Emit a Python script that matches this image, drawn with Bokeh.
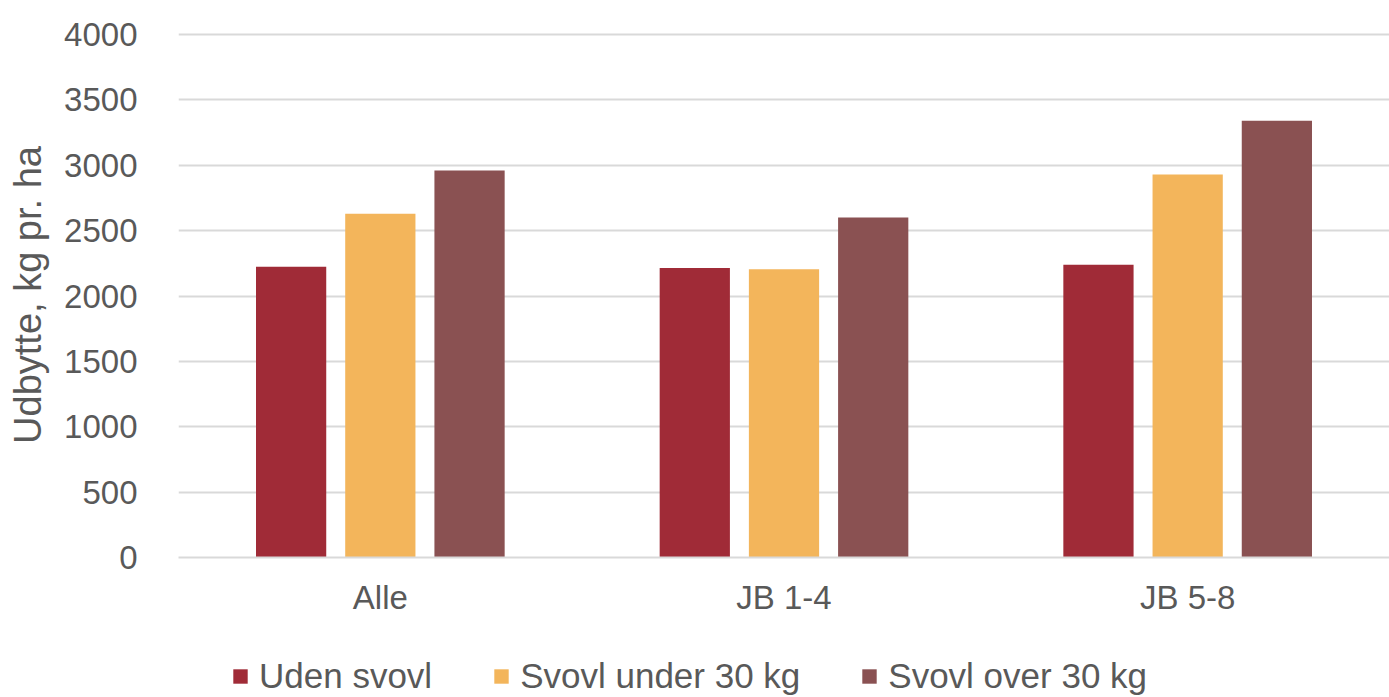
from bokeh.plotting import figure
from bokeh.models import ColumnDataSource, FactorRange, Range1d, Legend, LegendItem
from bokeh.layouts import column
from bokeh.transform import dodge
from bokeh.embed import file_html
from bokeh.resources import INLINE

categories = ["Alle", "JB 1-4", "JB 5-8"]
series_names = ["Uden svovl", "Svovl under 30 kg", "Svovl over 30 kg"]
uden_svovl = [2225, 2215, 2240]
svovl_under_30 = [2630, 2205, 2930]
svovl_over_30 = [2960, 2600, 3340]
y_ticks = [0, 500, 1000, 1500, 2000, 2500, 3000, 3500, 4000]

colors = ["#A02B37", "#F3B55B", "#8A5152"]
FONT = "Liberation Sans"
TXT = "#595959"

source = ColumnDataSource(dict(cat=categories, s0=uden_svovl, s1=svovl_under_30, s2=svovl_over_30))

p = figure(frame_width=1211, frame_height=525, x_range=FactorRange(*categories, range_padding=0),
           y_range=Range1d(0, 4016), output_backend="svg", toolbar_location=None,
           min_border_left=178, min_border_right=0, min_border_top=32, min_border_bottom=70)
p.outline_line_color = None
p.background_fill_color = "white"
p.border_fill_color = "white"

offsets = [-0.221, 0.0, 0.221]
for i, key in enumerate(["s0", "s1", "s2"]):
    p.vbar(x=dodge("cat", offsets[i], range=p.x_range), top=key, width=0.174,
           source=source, fill_color=colors[i], line_color=None)

p.yaxis.ticker = y_ticks
p.yaxis.axis_line_color = None
p.yaxis.major_tick_line_color = None
p.yaxis.minor_tick_line_color = None
p.yaxis.major_label_text_font = FONT
p.yaxis.major_label_text_font_size = "33px"
p.yaxis.major_label_text_color = TXT
p.yaxis.major_label_standoff = 35
p.yaxis.axis_label = "Udbytte, kg pr. ha"
p.yaxis.axis_label_text_font = FONT
p.yaxis.axis_label_text_font_size = "38px"
p.yaxis.axis_label_text_font_style = "normal"
p.yaxis.axis_label_text_color = TXT
p.yaxis.axis_label_standoff = 12

p.xaxis.axis_line_color = "#D9D9D9"
p.xaxis.axis_line_width = 2
p.xaxis.major_tick_line_color = None
p.xaxis.minor_tick_line_color = None
p.xaxis.major_label_text_font = FONT
p.xaxis.major_label_text_font_size = "33px"
p.xaxis.major_label_text_color = TXT
p.xaxis.major_label_standoff = 15

p.xgrid.grid_line_color = None
p.ygrid.grid_line_color = "#D9D9D9"
p.ygrid.grid_line_width = 2

# legend strip below the chart (legend glyphs only; their data lies outside the view)
lg = figure(frame_width=1389, frame_height=70, output_backend="svg", toolbar_location=None,
            min_border=0, x_range=Range1d(0, 1), y_range=Range1d(0, 1))
lg.outline_line_color = None
lg.axis.visible = False
lg.grid.grid_line_color = None
lg_renderers = [lg.vbar(x=[-10], top=[-10], bottom=[-11], width=0.1, fill_color=colors[i], line_color=None)
                for i in range(3)]

legend = Legend(items=[LegendItem(label=series_names[i], renderers=[lg_renderers[i]]) for i in range(3)],
                orientation="horizontal", location=(231, 1))
legend.label_text_font = FONT
legend.label_text_font_size = "35px"
legend.label_text_color = TXT
legend.glyph_width = 18
legend.glyph_height = 18
legend.label_standoff = 10
legend.spacing = 60
legend.border_line_color = None
legend.background_fill_alpha = 0
legend.margin = 0
legend.padding = 0
lg.add_layout(legend, "center")

layout = column(p, lg, spacing=0)
html = file_html(layout, INLINE)
open("out.html", "w").write(html)
